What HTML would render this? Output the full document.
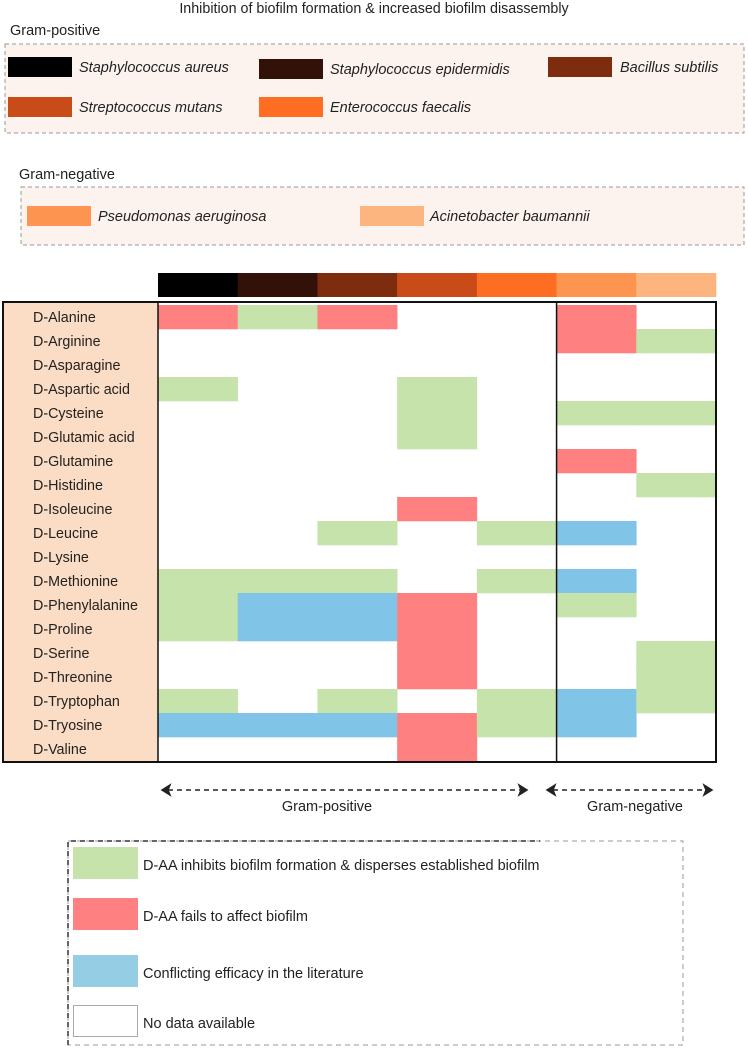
<!DOCTYPE html>
<html><head><meta charset="utf-8"><style>
body{margin:0;background:#fff;}
svg{display:block;font-family:"Liberation Sans",sans-serif;}
</style></head><body>
<svg width="748" height="1048" viewBox="0 0 748 1048">
<text x="374" y="13" text-anchor="middle" font-size="14.3" fill="#222">Inhibition of biofilm formation &amp; increased biofilm disassembly</text>
<text x="10" y="35" font-size="14.5" fill="#222">Gram-positive</text>
<rect x="5" y="44" width="739" height="89" fill="#fdf3ee" stroke="#999" stroke-dasharray="4,3"/>
<text x="19" y="179" font-size="14.5" fill="#222">Gram-negative</text>
<rect x="21" y="187" width="723" height="58" fill="#fdf3ee" stroke="#999" stroke-dasharray="4,3"/>
<g id="species-key" font-size="14.5" font-style="italic" fill="#222"></g>
<g id="heat"></g>
<g stroke="#222" stroke-width="1.5">
<line x1="168" y1="790" x2="520" y2="790" stroke-dasharray="5,4"/>
<polygon points="162,790 170,785 168,790 170,795" fill="#222"/>
<polygon points="527,790 519,785 521,790 519,795" fill="#222"/>
<line x1="553" y1="790" x2="705" y2="790" stroke-dasharray="5,4"/>
<polygon points="547,790 555,785 553,790 555,795" fill="#222"/>
<polygon points="712,790 704,785 706,790 704,795" fill="#222"/>
</g>
<text x="327" y="811" text-anchor="middle" font-size="14.5" fill="#222">Gram-positive</text>
<text x="635" y="811" text-anchor="middle" font-size="14.5" fill="#222">Gram-negative</text>
<g>
<rect x="68" y="841" width="615" height="204" fill="none" stroke="#999" stroke-dasharray="5,4"/>
<path d="M68,1045 V841 H540" fill="none" stroke="#333" stroke-dasharray="5,4" stroke-width="1.5"/>
<rect x="73" y="847" width="65" height="32" fill="#c5e3ab"/>
<text x="143" y="870" font-size="14.5" fill="#222">D-AA inhibits biofilm formation &amp; disperses established biofilm</text>
<rect x="73" y="898" width="65" height="32" fill="#ff8080"/>
<text x="143" y="921" font-size="14.5" fill="#222">D-AA fails to affect biofilm</text>
<rect x="73" y="955" width="65" height="32" fill="#94cde4"/>
<text x="143" y="978" font-size="14.5" fill="#222">Conflicting efficacy in the literature</text>
<rect x="73.5" y="1005.5" width="64" height="31" fill="#fff" stroke="#aaa"/>
<text x="143" y="1028" font-size="14.5" fill="#222">No data available</text>
</g>
</svg>
<script>
const species = ["Staphylococcus aureus","Staphylococcus epidermidis","Bacillus subtilis","Streptococcus mutans","Enterococcus faecalis","Pseudomonas aeruginosa","Acinetobacter baumannii"];
const speciesColors = ["#000000","#321208","#7e2c0e","#c94b18","#fd6d22","#fd9450","#fdb57f"];
const aminoAcids = ["D-Alanine","D-Arginine","D-Asparagine","D-Aspartic acid","D-Cysteine","D-Glutamic acid","D-Glutamine","D-Histidine","D-Isoleucine","D-Leucine","D-Lysine","D-Methionine","D-Phenylalanine","D-Proline","D-Serine","D-Threonine","D-Tryptophan","D-Tryosine","D-Valine"];
// G = inhibits, R = fails, B = conflicting, 0 = no data
const effects = [
"RGR00R0","00000RG","0000000","G00G000","000G0GG","000G000","00000R0","000000G","000R000",
"00G0GB0","0000000","GGG0GB0","GBBR0G0","GBBR000","000R00G","000R00G","G0G0GBG","BBBRGB0","000R000"];
const effectColors = {G:"#c5e3ab",R:"#ff8080",B:"#80c4e8"};

const NS="http://www.w3.org/2000/svg";
function mk(tag,attrs,parent){const e=document.createElementNS(NS,tag);for(const k in attrs)e.setAttribute(k,attrs[k]);parent.appendChild(e);return e;}
const x0=158,x1=716,yTop=305,rowH=24;
const colW=(x1-x0)/species.length;
const xs=i=>x0+i*colW, ys=j=>yTop+j*rowH;

const key=document.getElementById('species-key');
const keyPos=[[8,57,79],[259,59,330],[548,57,620],[8,97,79],[259,97,330],[27,206,98],[360,206,430]];
species.forEach((s,i)=>{
  const p=keyPos[i];
  const r=mk('rect',{x:p[0],y:p[1],width:64,height:20,fill:speciesColors[i]},key);
  
  
  const t=mk('text',{x:p[2],y:p[1]+15},key);t.textContent=s;
  
  
});

const heat=document.getElementById('heat');
species.forEach((s,i)=>{
  const r=mk('rect',{x:xs(i),y:273,width:colW+0.3,height:24,fill:speciesColors[i]},heat);
  
  
});
const lc=mk('rect',{x:3,y:302,width:155,height:460,fill:"#fbdcc4"},heat);


aminoAcids.forEach((a,j)=>{
  const t=mk('text',{x:33,y:ys(j)+17,'font-size':14.3,fill:'#222'},heat);t.textContent=a;
  
  
  for(let i=0;i<species.length;i++){
    const v=effects[j][i];
    if(effectColors[v]){
      const c=mk('rect',{x:xs(i),y:ys(j),width:colW+0.3,height:rowH+0.3,fill:effectColors[v]},heat);
      
      
    }
  }
});
const box=mk('rect',{x:3,y:302,width:713,height:460,fill:'none',stroke:'#111','stroke-width':2},heat);


const l1=mk('line',{x1:158,y1:302,x2:158,y2:762,stroke:'#111','stroke-width':1.5},heat);


const l2=mk('line',{x1:xs(5),y1:302,x2:xs(5),y2:762,stroke:'#111','stroke-width':1.5},heat);


</script>
</body></html>
